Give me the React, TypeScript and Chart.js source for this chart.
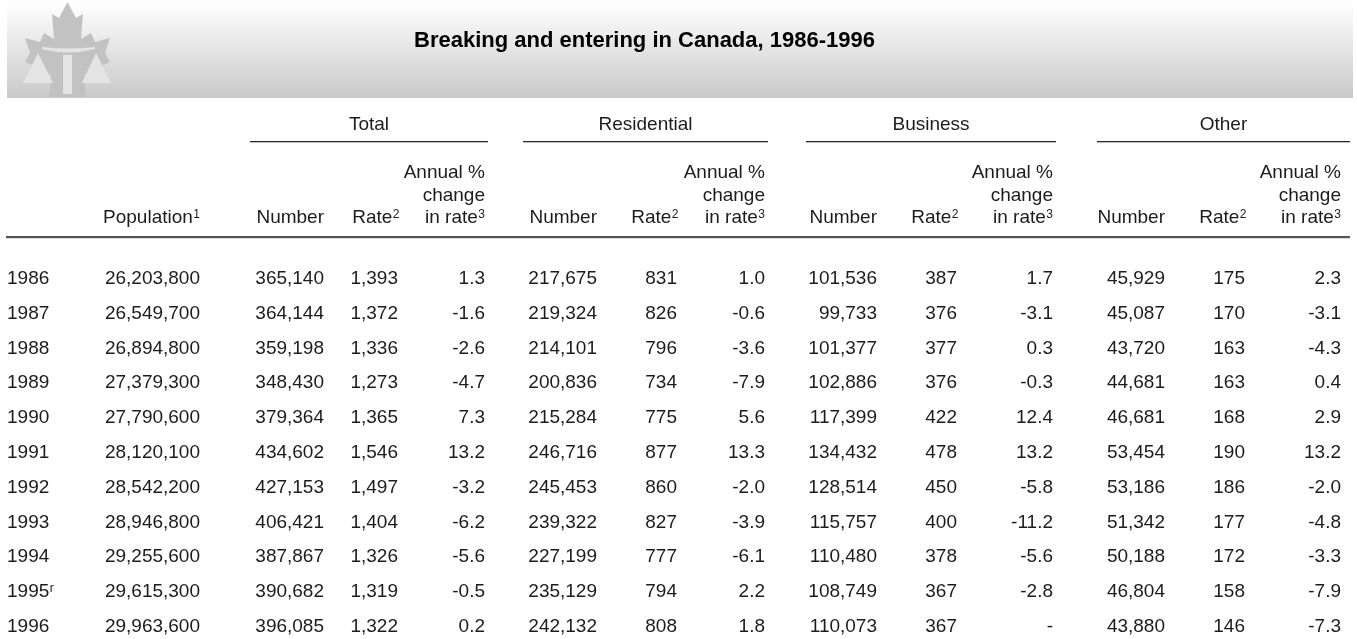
import React, { useEffect, useRef } from "react";
import { Chart, registerables } from "chart.js";

Chart.register(...registerables);

// ---------- DATA ----------
const TITLE = "Breaking and entering in Canada, 1986-1996";
const years = ["1986", "1987", "1988", "1989", "1990", "1991", "1992", "1993", "1994", "1995", "1996"];
const yearNotes = ["", "", "", "", "", "", "", "", "", "r", ""];
const population = [26203800, 26549700, 26894800, 27379300, 27790600, 28120100, 28542200, 28946800, 29255600, 29615300, 29963600];
const totalNumber = [365140, 364144, 359198, 348430, 379364, 434602, 427153, 406421, 387867, 390682, 396085];
const totalRate = [1393, 1372, 1336, 1273, 1365, 1546, 1497, 1404, 1326, 1319, 1322];
const totalChange = [1.3, -1.6, -2.6, -4.7, 7.3, 13.2, -3.2, -6.2, -5.6, -0.5, 0.2];
const residentialNumber = [217675, 219324, 214101, 200836, 215284, 246716, 245453, 239322, 227199, 235129, 242132];
const residentialRate = [831, 826, 796, 734, 775, 877, 860, 827, 777, 794, 808];
const residentialChange = [1.0, -0.6, -3.6, -7.9, 5.6, 13.3, -2.0, -3.9, -6.1, 2.2, 1.8];
const businessNumber = [101536, 99733, 101377, 102886, 117399, 134432, 128514, 115757, 110480, 108749, 110073];
const businessRate = [387, 376, 377, 376, 422, 478, 450, 400, 378, 367, 367];
const businessChange = [1.7, -3.1, 0.3, -0.3, 12.4, 13.2, -5.8, -11.2, -5.6, -2.8, null];
const otherNumber = [45929, 45087, 43720, 44681, 46681, 53454, 53186, 51342, 50188, 46804, 43880];
const otherRate = [175, 170, 163, 163, 168, 190, 186, 177, 172, 158, 146];
const otherChange = [2.3, -3.1, -4.3, 0.4, 2.9, 13.2, -2.0, -4.8, -3.3, -7.9, -7.3];

const groupLabels = ["Total", "Residential", "Business", "Other"];
const populationHeader = { text: "Population", sup: "1" };
const numberHeader = "Number";
const rateHeader = { text: "Rate", sup: "2" };
const changeHeader = ["Annual %", "change", "in rate"];
const changeSup = "3";

// ---------- LAYOUT / STYLE ----------
const W = 1357;
const H = 639;
const FONT = "'Liberation Sans', Arial, Helvetica, sans-serif";
const TEXT_COLOR = "#1c1c1c";
const BODY_FONT = `19px ${FONT}`;
const SUP_FONT = `12px ${FONT}`;
const YEAR_X = 7;
const COL_RIGHT = [200, 324, 398, 485, 597, 677, 765, 877, 957, 1053, 1165, 1245, 1341];
const GROUP_SPANS = [[250, 488], [523, 768], [806, 1056], [1097, 1350]];
const ROW_TOP = 277.2;
const ROW_BOTTOM = 625.2;
const BASELINE_OFFSET = 6.8;

type Col = { values: (number | null)[]; kind: "int" | "pct" };
const columns: Col[] = [
  { values: population, kind: "int" },
  { values: totalNumber, kind: "int" },
  { values: totalRate, kind: "int" },
  { values: totalChange, kind: "pct" },
  { values: residentialNumber, kind: "int" },
  { values: residentialRate, kind: "int" },
  { values: residentialChange, kind: "pct" },
  { values: businessNumber, kind: "int" },
  { values: businessRate, kind: "int" },
  { values: businessChange, kind: "pct" },
  { values: otherNumber, kind: "int" },
  { values: otherRate, kind: "int" },
  { values: otherChange, kind: "pct" },
];

function fmt(v: number | null, kind: string) {
  if (v === null || v === undefined) return "-";
  if (kind === "pct") return v.toFixed(1);
  return v.toLocaleString("en-US");
}

function drawWithSup(ctx: CanvasRenderingContext2D, text: string, sup: string, x: number, baseline: number, align: "left" | "right") {
  ctx.font = BODY_FONT;
  const w1 = ctx.measureText(text).width;
  ctx.font = SUP_FONT;
  const w2 = sup ? ctx.measureText(sup).width + 0.5 : 0;
  const left = align === "right" ? x - w1 - w2 : x;
  ctx.textAlign = "left";
  ctx.font = BODY_FONT;
  ctx.fillText(text, left, baseline);
  if (sup) {
    ctx.font = SUP_FONT;
    ctx.fillText(sup, left + w1 + 0.5, baseline - 5.5);
  }
}

function drawLogo(ctx: CanvasRenderingContext2D) {
  const c = 135;
  const right: [number, number][] = [
    [68, 3], [76, 18], [83, 14], [81, 39], [91, 33], [95, 42], [110, 38],
    [105, 53], [110, 62], [98, 67], [101, 79], [84, 74], [86, 97],
  ];
  const left = right.slice().reverse().map(([x, y]) => [c - x, y] as [number, number]);
  ctx.save();
  ctx.fillStyle = "#c2c2c2";
  ctx.beginPath();
  right.forEach(([x, y], i) => (i === 0 ? ctx.moveTo(x, y) : ctx.lineTo(x, y)));
  left.forEach(([x, y]) => ctx.lineTo(x, y));
  ctx.closePath();
  ctx.fill();
  ctx.fillStyle = "#e4e4e4";
  // bar
  ctx.beginPath();
  ctx.moveTo(42, 47);
  ctx.quadraticCurveTo(68, 50, 95, 47);
  ctx.lineTo(95, 49);
  ctx.quadraticCurveTo(68, 56, 42, 49);
  ctx.closePath();
  ctx.fill();
  // stem
  ctx.fillRect(63, 55, 9, 39);
  // triangles
  ctx.beginPath();
  ctx.moveTo(38, 53); ctx.lineTo(53, 83); ctx.lineTo(23, 83); ctx.closePath();
  ctx.fill();
  ctx.beginPath();
  ctx.moveTo(96, 53); ctx.lineTo(111, 83); ctx.lineTo(82, 83); ctx.closePath();
  ctx.fill();
  ctx.restore();
}

const tablePlugin = {
  id: "tablePlugin",
  beforeDraw(chart: any) {
    const ctx: CanvasRenderingContext2D = chart.ctx;
    ctx.save();
    ctx.fillStyle = "#ffffff";
    ctx.fillRect(0, 0, W, H);
    // header band
    const g = ctx.createLinearGradient(0, 0, 0, 98);
    g.addColorStop(0, "#ffffff");
    g.addColorStop(0.1, "#fbfbfb");
    g.addColorStop(1, "#c9c9c9");
    ctx.fillStyle = g;
    ctx.fillRect(7, 0, 1346, 98);
    drawLogo(ctx);
    // title
    ctx.fillStyle = "#000000";
    ctx.font = `bold 22px ${FONT}`;
    ctx.textAlign = "center";
    ctx.textBaseline = "alphabetic";
    ctx.fillText(TITLE, 644.5, 47);

    ctx.fillStyle = TEXT_COLOR;
    ctx.font = BODY_FONT;
    // group labels and underlines
    GROUP_SPANS.forEach(([a, b], i) => {
      ctx.font = BODY_FONT;
      ctx.textAlign = "center";
      ctx.fillText(groupLabels[i], (a + b) / 2, 130);
      ctx.fillStyle = "#2a2a2a";
      ctx.fillRect(a, 141, b - a, 1.3);
      ctx.fillStyle = TEXT_COLOR;
    });
    // column headers
    drawWithSup(ctx, populationHeader.text, populationHeader.sup, COL_RIGHT[0], 223.3, "right");
    for (let gi = 0; gi < 4; gi++) {
      const base = 1 + gi * 3;
      ctx.font = BODY_FONT;
      ctx.textAlign = "right";
      ctx.fillText(numberHeader, COL_RIGHT[base], 223.3);
      drawWithSup(ctx, rateHeader.text, rateHeader.sup, COL_RIGHT[base + 1] + 1.5, 223.3, "right");
      ctx.font = BODY_FONT;
      ctx.textAlign = "right";
      ctx.fillText(changeHeader[0], COL_RIGHT[base + 2], 178.3);
      ctx.fillText(changeHeader[1], COL_RIGHT[base + 2], 200.8);
      drawWithSup(ctx, changeHeader[2], changeSup, COL_RIGHT[base + 2], 223.3, "right");
    }
    // thick rule
    ctx.fillStyle = "#555555";
    ctx.fillRect(6, 236, 1344, 2.2);
    ctx.restore();
  },
  afterDatasetsDraw(chart: any) {
    const ctx: CanvasRenderingContext2D = chart.ctx;
    ctx.save();
    ctx.fillStyle = TEXT_COLOR;
    ctx.textBaseline = "alphabetic";
    chart.data.datasets.forEach((ds: any, d: number) => {
      const meta = chart.getDatasetMeta(d);
      meta.data.forEach((pt: any, i: number) => {
        const y = pt.y + BASELINE_OFFSET;
        if (ds.isYear) {
          drawWithSup(ctx, years[i], yearNotes[i], pt.x, y, "left");
        } else {
          ctx.font = BODY_FONT;
          ctx.textAlign = "right";
          ctx.fillText(fmt(ds.values[i], ds.kind), pt.x, y);
        }
      });
    });
    ctx.restore();
  },
};

export default function App() {
  const ref = useRef<HTMLCanvasElement | null>(null);
  useEffect(() => {
    if (!ref.current) return;
    const datasets: any[] = [
      {
        label: "Year",
        isYear: true,
        data: years.map((_, i) => ({ x: YEAR_X, y: i })),
        pointRadius: 0,
        pointHoverRadius: 0,
      },
      ...columns.map((col, c) => ({
        label: `col${c}`,
        values: col.values,
        kind: col.kind,
        data: col.values.map((_, i) => ({ x: COL_RIGHT[c], y: i })),
        pointRadius: 0,
        pointHoverRadius: 0,
      })),
    ];
    const chart = new Chart(ref.current, {
      type: "scatter",
      data: { datasets },
      options: {
        animation: false,
        responsive: false,
        devicePixelRatio: 1,
        events: [],
        layout: { padding: { top: ROW_TOP, bottom: H - ROW_BOTTOM, left: 0, right: 0 } },
        plugins: { legend: { display: false }, tooltip: { enabled: false }, title: { display: false } },
        scales: {
          x: { type: "linear", min: 0, max: W, display: false },
          y: { type: "linear", min: 0, max: years.length - 1, reverse: true, display: false },
        },
      } as any,
      plugins: [tablePlugin as any],
    });
    return () => chart.destroy();
  }, []);
  return (
    <canvas
      ref={ref}
      width={W}
      height={H}
      style={{ position: "fixed", left: 0, top: 0, width: W, height: H, background: "#fff" }}
    />
  );
}
